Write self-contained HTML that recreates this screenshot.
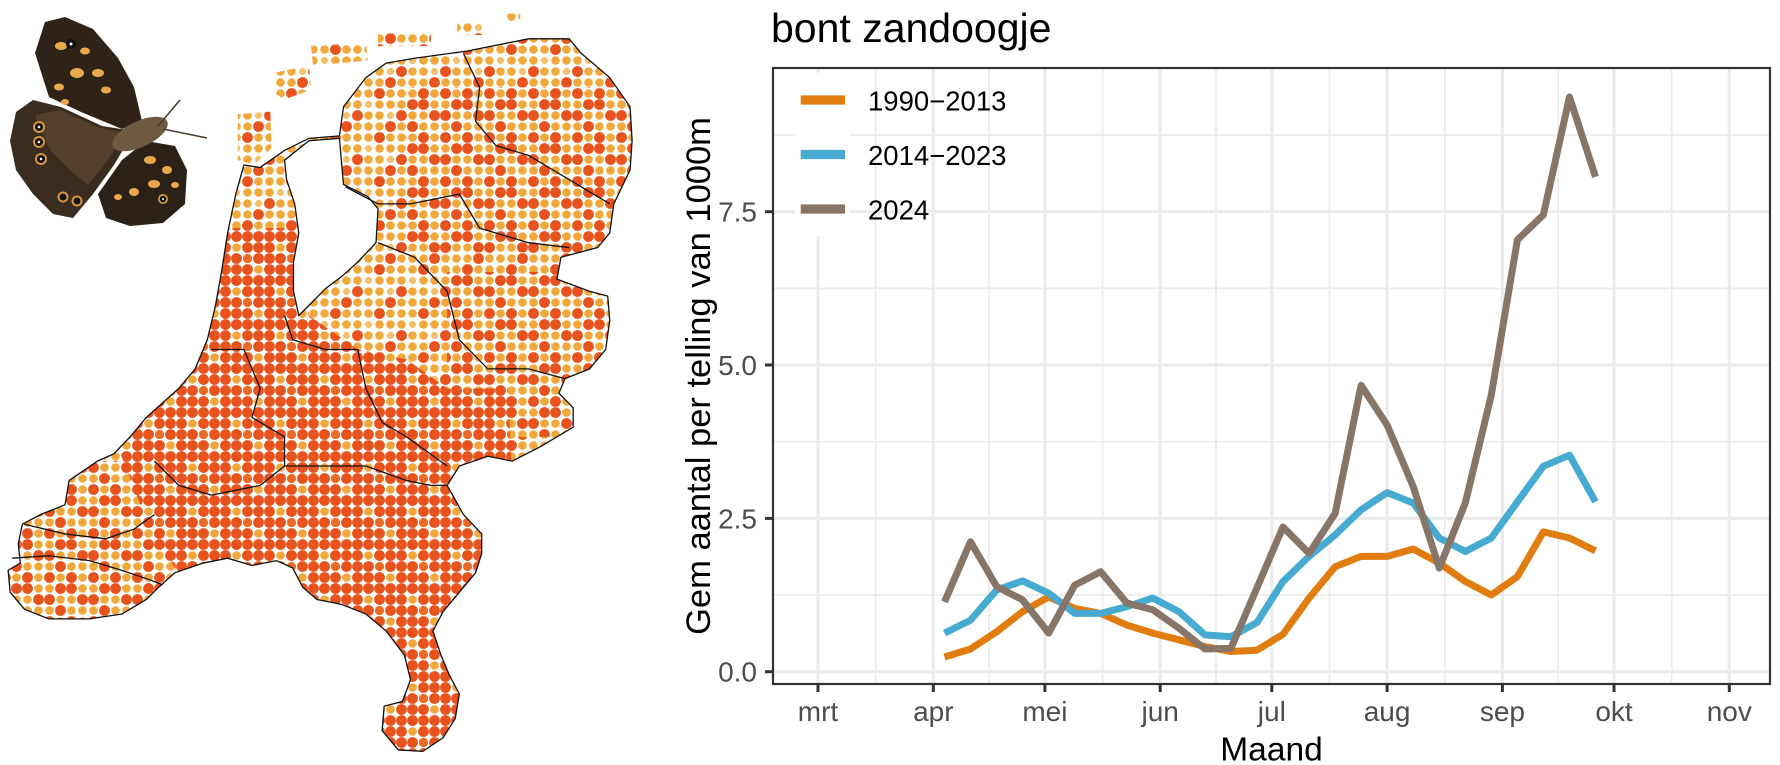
<!DOCTYPE html>
<html>
<head>
<meta charset="utf-8">
<style>
  html,body{margin:0;padding:0;background:#fff;}
  svg{display:block;}
  text{font-family:"Liberation Sans", Arial, sans-serif;}
</style>
</head>
<body>
<svg width="1780" height="765" viewBox="0 0 1780 765" xmlns="http://www.w3.org/2000/svg">
  <defs>
    <pattern id="pA" width="44" height="44" patternUnits="userSpaceOnUse">
      <circle cx="5.5" cy="5.5" r="4.3" fill="#F1A73A"/><circle cx="16.5" cy="5.5" r="4.3" fill="#F1A73A"/><circle cx="27.5" cy="5.5" r="5.4" fill="#E8521C"/><circle cx="38.5" cy="5.5" r="4.3" fill="#F1A73A"/>
      <circle cx="5.5" cy="16.5" r="4.3" fill="#F1A73A"/><circle cx="16.5" cy="16.5" r="3.6" fill="#F5C06A"/><circle cx="27.5" cy="16.5" r="4.3" fill="#F1A73A"/><circle cx="38.5" cy="16.5" r="4.3" fill="#F1A73A"/>
      <circle cx="5.5" cy="27.5" r="5.4" fill="#E8521C"/><circle cx="16.5" cy="27.5" r="4.3" fill="#F1A73A"/><circle cx="27.5" cy="27.5" r="4.3" fill="#F1A73A"/><circle cx="38.5" cy="27.5" r="3.6" fill="#F5C06A"/>
      <circle cx="5.5" cy="38.5" r="4.3" fill="#F1A73A"/><circle cx="16.5" cy="38.5" r="4.3" fill="#F1A73A"/><circle cx="27.5" cy="38.5" r="4.3" fill="#F1A73A"/><circle cx="38.5" cy="38.5" r="5.4" fill="#E8521C"/>
    </pattern>
    <pattern id="pB" width="44" height="44" patternUnits="userSpaceOnUse">
      <rect width="44" height="44" fill="#fff"/>
      <circle cx="5.5" cy="5.5" r="5.4" fill="#E8521C"/><circle cx="16.5" cy="5.5" r="5.4" fill="#E8521C"/><circle cx="27.5" cy="5.5" r="5.4" fill="#E8521C"/><circle cx="38.5" cy="5.5" r="4.3" fill="#F1A73A"/>
      <circle cx="5.5" cy="16.5" r="5.4" fill="#E8521C"/><circle cx="16.5" cy="16.5" r="5.4" fill="#E8521C"/><circle cx="27.5" cy="16.5" r="5.4" fill="#E8521C"/><circle cx="38.5" cy="16.5" r="5.4" fill="#E8521C"/>
      <circle cx="5.5" cy="27.5" r="5.4" fill="#E8521C"/><circle cx="16.5" cy="27.5" r="4.3" fill="#F1A73A"/><circle cx="27.5" cy="27.5" r="5.4" fill="#E8521C"/><circle cx="38.5" cy="27.5" r="5.4" fill="#E8521C"/>
      <circle cx="5.5" cy="38.5" r="5.4" fill="#E8521C"/><circle cx="16.5" cy="38.5" r="5.4" fill="#E8521C"/><circle cx="27.5" cy="38.5" r="4.6" fill="#EC6A24"/><circle cx="38.5" cy="38.5" r="5.4" fill="#E8521C"/>
    </pattern>
    <pattern id="pC" width="44" height="44" patternUnits="userSpaceOnUse">
      <rect width="44" height="44" fill="#fff"/>
      <circle cx="5.5" cy="5.5" r="5.4" fill="#E8521C"/><circle cx="16.5" cy="5.5" r="4.3" fill="#F1A73A"/><circle cx="27.5" cy="5.5" r="5.4" fill="#E8521C"/><circle cx="38.5" cy="5.5" r="4.3" fill="#F1A73A"/>
      <circle cx="5.5" cy="16.5" r="4.3" fill="#F1A73A"/><circle cx="16.5" cy="16.5" r="5.4" fill="#E8521C"/><circle cx="27.5" cy="16.5" r="5.4" fill="#E8521C"/><circle cx="38.5" cy="16.5" r="4.3" fill="#F1A73A"/>
      <circle cx="5.5" cy="27.5" r="5.4" fill="#E8521C"/><circle cx="16.5" cy="27.5" r="4.3" fill="#F1A73A"/><circle cx="27.5" cy="27.5" r="4.3" fill="#F1A73A"/><circle cx="38.5" cy="27.5" r="5.4" fill="#E8521C"/>
      <circle cx="5.5" cy="38.5" r="4.3" fill="#F1A73A"/><circle cx="16.5" cy="38.5" r="5.4" fill="#E8521C"/><circle cx="27.5" cy="38.5" r="4.3" fill="#F1A73A"/><circle cx="38.5" cy="38.5" r="4.3" fill="#F1A73A"/>
    </pattern>

    <clipPath id="land">
      <polygon transform="scale(0.4065 0.4854)" points="600,340 640,345 700,310 760,285 835,280 845,220 900,160 950,130 1020,120 1150,105 1300,80 1400,80 1430,110 1500,160 1550,220 1555,290 1550,350 1510,420 1500,480 1470,510 1380,530 1370,575 1450,600 1495,610 1500,660 1490,720 1450,760 1390,780 1375,810 1410,840 1410,880 1330,920 1260,950 1200,940 1130,960 1100,1000 1140,1060 1185,1100 1185,1140 1170,1180 1130,1220 1090,1260 1065,1300 1085,1350 1105,1390 1130,1430 1120,1480 1090,1520 1040,1548 980,1545 940,1505 945,1455 990,1445 1010,1400 995,1350 950,1300 900,1265 840,1245 780,1235 745,1210 720,1170 680,1155 620,1165 560,1150 500,1160 430,1180 390,1210 360,1235 300,1265 220,1275 120,1275 60,1255 25,1220 20,1175 50,1160 45,1120 55,1080 100,1060 160,1040 170,990 240,950 280,935 320,900 360,860 400,830 440,800 480,760 510,700 530,630 545,560 560,480 580,400"/>
      <polygon transform="scale(0.4065 0.4854)" points="585,235 665,230 668,305 625,340 585,330"/>
      <polygon transform="scale(0.4065 0.4854)" points="675,150 760,135 765,185 700,205 672,190"/>
      <polygon transform="scale(0.4065 0.4854)" points="765,95 900,88 905,125 770,135"/>
      <polygon transform="scale(0.4065 0.4854)" points="930,70 1060,66 1060,95 930,95"/>
      <polygon transform="scale(0.4065 0.4854)" points="1125,45 1190,42 1190,72 1125,72"/>
      <polygon transform="scale(0.4065 0.4854)" points="1245,28 1280,28 1280,48 1245,48"/>
    </clipPath>
    <clipPath id="regB">
      <polygon transform="scale(0.4065 0.4854)" points="420,470 730,470 760,650 880,720 1000,740 1100,800 1250,800 1260,1000 1200,1200 1160,1560 900,1560 820,1300 700,1200 450,1200 350,1050 280,900"/>
    </clipPath>
    <clipPath id="regC">
      <polygon transform="scale(0.4065 0.4854)" points="1000,180 1560,180 1560,520 1000,520"/>
      <polygon transform="scale(0.4065 0.4854)" points="1100,560 1520,560 1520,900 1100,900"/>
      <polygon transform="scale(0.4065 0.4854)" points="0,950 430,950 430,1300 0,1300"/>
    </clipPath>
  </defs>

  <!-- ============ MAP ============ -->
  <g clip-path="url(#land)">
    <rect x="0" y="0" width="660" height="765" fill="url(#pA)"/>
    <rect x="0" y="0" width="660" height="765" fill="url(#pC)" clip-path="url(#regC)"/>
    <rect x="0" y="0" width="660" height="765" fill="url(#pB)" clip-path="url(#regB)"/>
  </g>
  <g transform="scale(0.4065 0.4854)" fill="none" stroke="#111" stroke-width="1.3">
    <polygon vector-effect="non-scaling-stroke" points="600,340 640,345 700,310 760,285 835,280 845,220 900,160 950,130 1020,120 1150,105 1300,80 1400,80 1430,110 1500,160 1550,220 1555,290 1550,350 1510,420 1500,480 1470,510 1380,530 1370,575 1450,600 1495,610 1500,660 1490,720 1450,760 1390,780 1375,810 1410,840 1410,880 1330,920 1260,950 1200,940 1130,960 1100,1000 1140,1060 1185,1100 1185,1140 1170,1180 1130,1220 1090,1260 1065,1300 1085,1350 1105,1390 1130,1430 1120,1480 1090,1520 1040,1548 980,1545 940,1505 945,1455 990,1445 1010,1400 995,1350 950,1300 900,1265 840,1245 780,1235 745,1210 720,1170 680,1155 620,1165 560,1150 500,1160 430,1180 390,1210 360,1235 300,1265 220,1275 120,1275 60,1255 25,1220 20,1175 50,1160 45,1120 55,1080 100,1060 160,1040 170,990 240,950 280,935 320,900 360,860 400,830 440,800 480,760 510,700 530,630 545,560 560,480 580,400"/>
    <polygon vector-effect="non-scaling-stroke" fill="#fff" points="700,330 760,290 835,285 845,380 905,405 930,430 925,500 880,540 840,570 800,595 765,625 735,650 722,600 722,540 735,480 725,420 705,370"/>
    <polyline vector-effect="non-scaling-stroke" points="30,1150 120,1145 220,1155 300,1175 370,1195 400,1205"/>
    <polyline vector-effect="non-scaling-stroke" points="60,1080 160,1100 260,1110 330,1090 380,1060"/>
    <polyline vector-effect="non-scaling-stroke" points="850,385 930,420 1010,420 1130,400 1180,470 1300,500 1400,510"/>
    <polyline vector-effect="non-scaling-stroke" points="1140,110 1180,180 1170,250 1220,300 1300,320 1420,380 1500,420"/>
    <polyline vector-effect="non-scaling-stroke" points="930,500 1020,530 1100,600 1130,700 1200,760 1300,760 1390,780"/>
    <polyline vector-effect="non-scaling-stroke" points="700,650 720,700 800,720 880,720 900,800 940,870 1000,900 1100,960"/>
    <polyline vector-effect="non-scaling-stroke" points="520,720 600,720 640,800 620,860 700,900 700,960 640,1000 520,1020 440,1000 380,950"/>
    <polyline vector-effect="non-scaling-stroke" points="700,960 760,960 900,960 1000,990 1060,1000 1100,1000"/>
  </g>

  <!-- ============ BUTTERFLY ============ -->
  <g>
    <polygon points="10,141 16,112 33,100 61,107 102,126 134,131 114,165 93,194 73,218 53,214 33,194 16,170" fill="#3a2c1f"/>
    <polygon points="35,115 60,110 100,128 125,133 108,160 88,185 70,170 50,150" fill="#5a4630" opacity="0.8"/>
    <polygon points="35,53 45,22 65,17 93,29 118,58 134,87 142,121 122,129 81,112 49,97" fill="#2f2318"/>
    <polygon points="98,194 122,160 146,141 175,146 187,170 185,204 163,223 130,226 106,218" fill="#2c2117"/>
    <ellipse cx="140" cy="134" rx="30" ry="13" transform="rotate(-25 140 134)" fill="#6d5a40"/>
    <line x1="158" y1="126" x2="180" y2="100" stroke="#4a3a2a" stroke-width="1.5"/>
    <line x1="163" y1="129" x2="207" y2="138" stroke="#4a3a2a" stroke-width="1.5"/>
    <g fill="#E9A84A">
      <ellipse cx="61" cy="46" rx="6" ry="4"/>
      <ellipse cx="85" cy="51" rx="5" ry="3.5"/>
      <ellipse cx="77" cy="73" rx="7" ry="5"/>
      <ellipse cx="98" cy="73" rx="6" ry="4"/>
      <ellipse cx="59" cy="87" rx="5" ry="3.5"/>
      <ellipse cx="65" cy="102" rx="4" ry="3"/>
      <ellipse cx="106" cy="90" rx="5" ry="3.5"/>
      <ellipse cx="150" cy="160" rx="6" ry="4"/>
      <ellipse cx="167" cy="170" rx="5" ry="4"/>
      <ellipse cx="154" cy="184" rx="6" ry="4"/>
      <ellipse cx="134" cy="192" rx="5" ry="4"/>
      <ellipse cx="118" cy="197" rx="4" ry="3"/>
      <ellipse cx="175" cy="185" rx="4" ry="3"/>
    </g>
    <g>
      <circle cx="71" cy="44" r="5" fill="#111"/><circle cx="71" cy="44" r="1.5" fill="#fff"/>
      <circle cx="39" cy="127" r="6" fill="#D9963E"/><circle cx="39" cy="127" r="4" fill="#111"/><circle cx="39" cy="127" r="1.3" fill="#fff"/>
      <circle cx="39" cy="142" r="6" fill="#D9963E"/><circle cx="39" cy="142" r="4" fill="#111"/><circle cx="39" cy="142" r="1.3" fill="#fff"/>
      <circle cx="41" cy="159" r="6" fill="#D9963E"/><circle cx="41" cy="159" r="4" fill="#111"/><circle cx="41" cy="159" r="1.3" fill="#fff"/>
      <circle cx="63" cy="197" r="5.5" fill="#D9963E"/><circle cx="63" cy="197" r="3.5" fill="#111"/>
      <circle cx="77" cy="201" r="5.5" fill="#D9963E"/><circle cx="77" cy="201" r="3.5" fill="#111"/>
      <circle cx="163" cy="199" r="5" fill="#D9963E"/><circle cx="163" cy="199" r="3.2" fill="#111"/><circle cx="163" cy="199" r="1" fill="#fff"/>
    </g>
  </g>

  <!-- ============ CHART ============ -->
  <text x="771" y="42" font-size="41" fill="#000">bont zandoogje</text>

  <rect x="773" y="68" width="997" height="616" fill="#fff"/>

  <g stroke="#EBEBEB" stroke-width="1.7">
    <line x1="773" x2="1770" y1="595.0" y2="595.0"/>
    <line x1="773" x2="1770" y1="441.7" y2="441.7"/>
    <line x1="773" x2="1770" y1="288.4" y2="288.4"/>
    <line x1="773" x2="1770" y1="135.0" y2="135.0"/>
    <line y1="68" y2="684" x1="875.7" x2="875.7"/>
    <line y1="68" y2="684" x1="989.1" x2="989.1"/>
    <line y1="68" y2="684" x1="1102.6" x2="1102.6"/>
    <line y1="68" y2="684" x1="1216.0" x2="1216.0"/>
    <line y1="68" y2="684" x1="1329.5" x2="1329.5"/>
    <line y1="68" y2="684" x1="1444.8" x2="1444.8"/>
    <line y1="68" y2="684" x1="1558.2" x2="1558.2"/>
    <line y1="68" y2="684" x1="1671.7" x2="1671.7"/>
  </g>
  <g stroke="#EBEBEB" stroke-width="3.2">
    <line x1="773" x2="1770" y1="671.7" y2="671.7"/>
    <line x1="773" x2="1770" y1="518.4" y2="518.4"/>
    <line x1="773" x2="1770" y1="365.0" y2="365.0"/>
    <line x1="773" x2="1770" y1="211.7" y2="211.7"/>
    <line y1="68" y2="684" x1="818" x2="818"/>
    <line y1="68" y2="684" x1="933.3" x2="933.3"/>
    <line y1="68" y2="684" x1="1044.9" x2="1044.9"/>
    <line y1="68" y2="684" x1="1160.2" x2="1160.2"/>
    <line y1="68" y2="684" x1="1271.8" x2="1271.8"/>
    <line y1="68" y2="684" x1="1387.1" x2="1387.1"/>
    <line y1="68" y2="684" x1="1502.4" x2="1502.4"/>
    <line y1="68" y2="684" x1="1614.0" x2="1614.0"/>
    <line y1="68" y2="684" x1="1729.3" x2="1729.3"/>
  </g>

  <rect x="795" y="72.7" width="55" height="163.6" fill="#fff"/>
  <g stroke-width="9.3">
    <line x1="800.7" x2="845" y1="100" y2="100" stroke="#E17C0E"/>
    <line x1="800.7" x2="845" y1="154.5" y2="154.5" stroke="#47AAD1"/>
    <line x1="800.7" x2="845" y1="209" y2="209" stroke="#877568"/>
  </g>
  <g font-size="27.5" fill="#000">
    <text x="868" y="110.5">1990−2013</text>
    <text x="868" y="165">2014−2023</text>
    <text x="868" y="219.5">2024</text>
  </g>

  <g fill="none" stroke-width="7" stroke-linejoin="round" stroke-linecap="butt">
    <polyline stroke="#E17C0E" points="944.5,657.0 970.5,649.0 996.6,631.8 1022.6,611.6 1048.7,596.9 1074.7,608.5 1100.7,613.4 1126.8,625.1 1152.8,633.1 1178.9,639.8 1204.9,646.6 1230.9,651.5 1257.0,650.2 1283.0,634.3 1309.1,598.1 1335.1,566.8 1361.1,556.4 1387.2,556.4 1413.2,549.0 1439.3,563.1 1465.3,581.5 1491.3,595.0 1517.4,576.6 1543.4,531.9 1569.5,538.0 1595.5,550.9"/>
    <polyline stroke="#47AAD1" points="944.5,633.1 970.5,620.2 996.6,590.1 1022.6,580.9 1048.7,593.2 1074.7,613.4 1100.7,613.4 1126.8,606.7 1152.8,598.1 1178.9,611.6 1204.9,634.9 1230.9,636.7 1257.0,622.6 1283.0,581.5 1309.1,556.4 1335.1,534.9 1361.1,509.8 1387.2,492.6 1413.2,503.0 1439.3,538.0 1465.3,551.5 1491.3,538.0 1517.4,501.8 1543.4,466.2 1569.5,455.2 1595.5,501.8"/>
    <polyline stroke="#877568" points="944.5,601.8 970.5,541.7 996.6,586.5 1022.6,599.9 1048.7,633.1 1074.7,585.2 1100.7,571.7 1126.8,603.0 1152.8,609.8 1178.9,628.2 1204.9,649.0 1230.9,648.4 1257.0,587.7 1283.0,527.0 1309.1,553.3 1335.1,513.5 1361.1,385.3 1387.2,425.2 1413.2,486.5 1439.3,568.1 1465.3,503.0 1491.3,395.1 1517.4,239.9 1543.4,214.8 1569.5,97 1595.5,176.8"/>
  </g>

  <rect x="773" y="68" width="997" height="616" fill="none" stroke="#333" stroke-width="2.2"/>

  <g stroke="#333" stroke-width="3">
    <line x1="765" x2="773" y1="671.7" y2="671.7"/>
    <line x1="765" x2="773" y1="518.4" y2="518.4"/>
    <line x1="765" x2="773" y1="365.0" y2="365.0"/>
    <line x1="765" x2="773" y1="211.7" y2="211.7"/>
    <line y1="684" y2="692" x1="818" x2="818"/>
    <line y1="684" y2="692" x1="933.3" x2="933.3"/>
    <line y1="684" y2="692" x1="1044.9" x2="1044.9"/>
    <line y1="684" y2="692" x1="1160.2" x2="1160.2"/>
    <line y1="684" y2="692" x1="1271.8" x2="1271.8"/>
    <line y1="684" y2="692" x1="1387.1" x2="1387.1"/>
    <line y1="684" y2="692" x1="1502.4" x2="1502.4"/>
    <line y1="684" y2="692" x1="1614.0" x2="1614.0"/>
    <line y1="684" y2="692" x1="1729.3" x2="1729.3"/>
  </g>

  <g font-size="28" fill="#4D4D4D" text-anchor="end">
    <text x="757" y="681.7">0.0</text>
    <text x="757" y="528.4">2.5</text>
    <text x="757" y="375.0">5.0</text>
    <text x="757" y="221.7">7.5</text>
  </g>
  <g font-size="28" fill="#4D4D4D" text-anchor="middle">
    <text x="818" y="721">mrt</text>
    <text x="933.3" y="721">apr</text>
    <text x="1044.9" y="721">mei</text>
    <text x="1160.2" y="721">jun</text>
    <text x="1271.8" y="721">jul</text>
    <text x="1387.1" y="721">aug</text>
    <text x="1502.4" y="721">sep</text>
    <text x="1614.0" y="721">okt</text>
    <text x="1729.3" y="721">nov</text>
  </g>

  <text x="1271.5" y="760.5" font-size="33.5" fill="#000" text-anchor="middle">Maand</text>
  <text transform="translate(710 376) rotate(-90)" x="0" y="0" font-size="34.5" fill="#000" text-anchor="middle">Gem aantal per telling van 1000m</text>
</svg>
</body>
</html>
